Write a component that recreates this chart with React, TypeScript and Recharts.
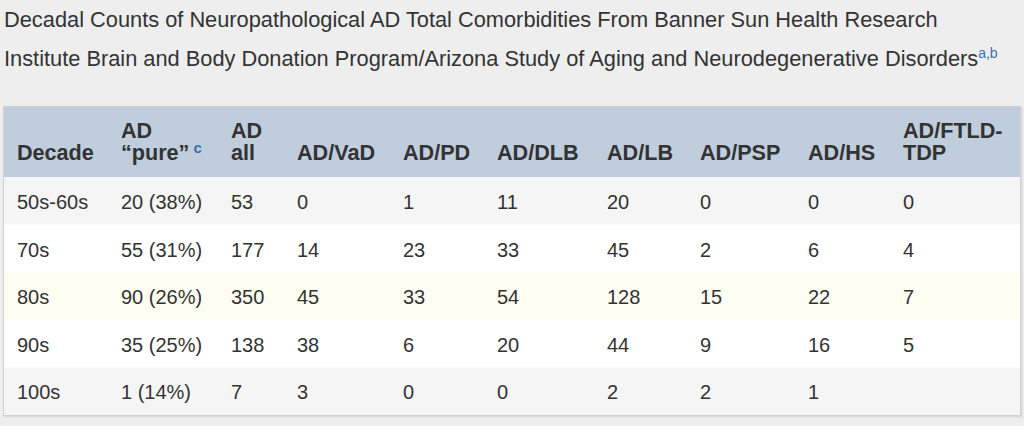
import { Bar, Cell, ComposedChart, LabelList, XAxis, YAxis } from "recharts";

const decades = ["50s-60s", "70s", "80s", "90s", "100s"];
const adPure = [20, 55, 90, 35, 1];
const adPurePct = [38, 31, 26, 25, 14];
const adAll = [53, 177, 350, 138, 7];
const adVaD = [0, 14, 45, 38, 3];
const adPD = [1, 23, 33, 6, 0];
const adDLB = [11, 33, 54, 20, 0];
const adLB = [20, 45, 128, 44, 2];
const adPSP = [0, 2, 15, 9, 2];
const adHS = [0, 6, 22, 16, 1];
const adFTLD: (number | null)[] = [0, 4, 7, 5, null];

const FONT = '"Liberation Sans", Arial, Helvetica, sans-serif';
const TEXT = "#333333";
const LINK = "#3a72b0";

// table layout: column widths in px, header lines
const columns = [
  { key: "decade", head: ["Decade"], w: 104 },
  { key: "pure", head: ["AD", "\u201cpure\u201d"], w: 110, sup: "c" },
  { key: "all", head: ["AD", "all"], w: 66 },
  { key: "vad", head: ["AD/VaD"], w: 106 },
  { key: "pd", head: ["AD/PD"], w: 94 },
  { key: "dlb", head: ["AD/DLB"], w: 110 },
  { key: "lb", head: ["AD/LB"], w: 93 },
  { key: "psp", head: ["AD/PSP"], w: 108 },
  { key: "hs", head: ["AD/HS"], w: 95 },
  { key: "ftld", head: ["AD/FTLD-", "TDP"], w: 130 },
];
const lefts = columns.map((_, i) =>
  columns.slice(0, i).reduce((s, c) => s + c.w, 0)
);
const TABLE_W = columns.reduce((s, c) => s + c.w, 0);
const HEAD_H = 70;
const TABLE_H = 308;
const rowFills = ["#f5f5f5", "#ffffff", "#fdfdf1", "#ffffff", "#f5f5f5"];

const rows = decades.map((d, i) => ({
  decade: d,
  pure: `${adPure[i]} (${adPurePct[i]}%)`,
  all: adAll[i],
  vad: adVaD[i],
  pd: adPD[i],
  dlb: adDLB[i],
  lb: adLB[i],
  psp: adPSP[i],
  hs: adHS[i],
  ftld: adFTLD[i],
}));

function HeaderTick(props: any) {
  const { x, payload } = props;
  const i = lefts.indexOf(payload.value);
  if (i < 0) return null;
  const col = columns[i];
  const lines = col.head;
  const base = 53;
  const lh = 22;
  return (
    <g>
      <rect x={x} y={0} width={col.w} height={HEAD_H} fill="#bfcddd" />
      <text
        x={x + 13}
        y={base - (lines.length - 1) * lh}
        fill={TEXT}
        fontFamily={FONT}
        fontWeight="bold"
        fontSize={21.6}
      >
        {lines.map((l, j) => (
          <tspan key={j} x={x + 13} dy={j === 0 ? 0 : lh}>
            {l}
          </tspan>
        ))}
        {col.sup ? (
          <tspan fill={LINK} fontSize={15} dx={4} dy={-7}>
            {col.sup}
          </tspan>
        ) : null}
      </text>
    </g>
  );
}

function CellText(props: any) {
  const { x, y, height, value } = props;
  if (value === null || value === undefined) return null;
  return (
    <text
      x={x + 13}
      y={y + height / 2 + 1}
      dominantBaseline="central"
      fill={TEXT}
      fontFamily={FONT}
      fontSize={20}
    >
      {value}
    </text>
  );
}

export default function App() {
  return (
    <div
      style={{
        position: "absolute",
        left: 0,
        top: 0,
        width: 1024,
        height: 426,
        background: "#eeeeee",
        fontFamily: FONT,
        color: TEXT,
        overflow: "hidden",
      }}
    >
      <div style={{ position: "absolute", left: 4, top: 7, fontSize: 21.8, whiteSpace: "nowrap" }}>
        Decadal Counts of Neuropathological AD Total Comorbidities From Banner Sun Health Research
      </div>
      <div style={{ position: "absolute", left: 4, top: 45, fontSize: 21.8, whiteSpace: "nowrap" }}>
        Institute Brain and Body Donation Program/Arizona Study of Aging and Neurodegenerative Disorders
        <sup style={{ color: LINK, fontSize: 14 }}>a,b</sup>
      </div>
      <div
        style={{
          position: "absolute",
          left: 3,
          top: 106,
          width: TABLE_W,
          height: TABLE_H,
          border: "1px solid #d2d2d2",
          boxShadow: "1px 1px 2px rgba(0,0,0,0.12)",
          background: "#fff",
        }}
      >
        <ComposedChart
          width={TABLE_W}
          height={TABLE_H}
          data={rows}
          layout="vertical"
          margin={{ top: 0, right: 0, bottom: 0, left: 0 }}
          barCategoryGap={0}
        >
          <XAxis
            type="number"
            orientation="top"
            domain={[0, TABLE_W]}
            ticks={lefts}
            interval={0}
            height={HEAD_H}
            axisLine={false}
            tickLine={false}
            tick={<HeaderTick />}
          />
          <YAxis type="category" dataKey="decade" hide />
          {columns.map((c) => (
            <Bar
              key={c.key}
              dataKey={() => c.w}
              stackId="row"
              isAnimationActive={false}
            >
              {rows.map((_, i) => (
                <Cell key={i} fill={rowFills[i]} />
              ))}
              <LabelList dataKey={c.key} content={<CellText />} />
            </Bar>
          ))}
        </ComposedChart>
      </div>
    </div>
  );
}
